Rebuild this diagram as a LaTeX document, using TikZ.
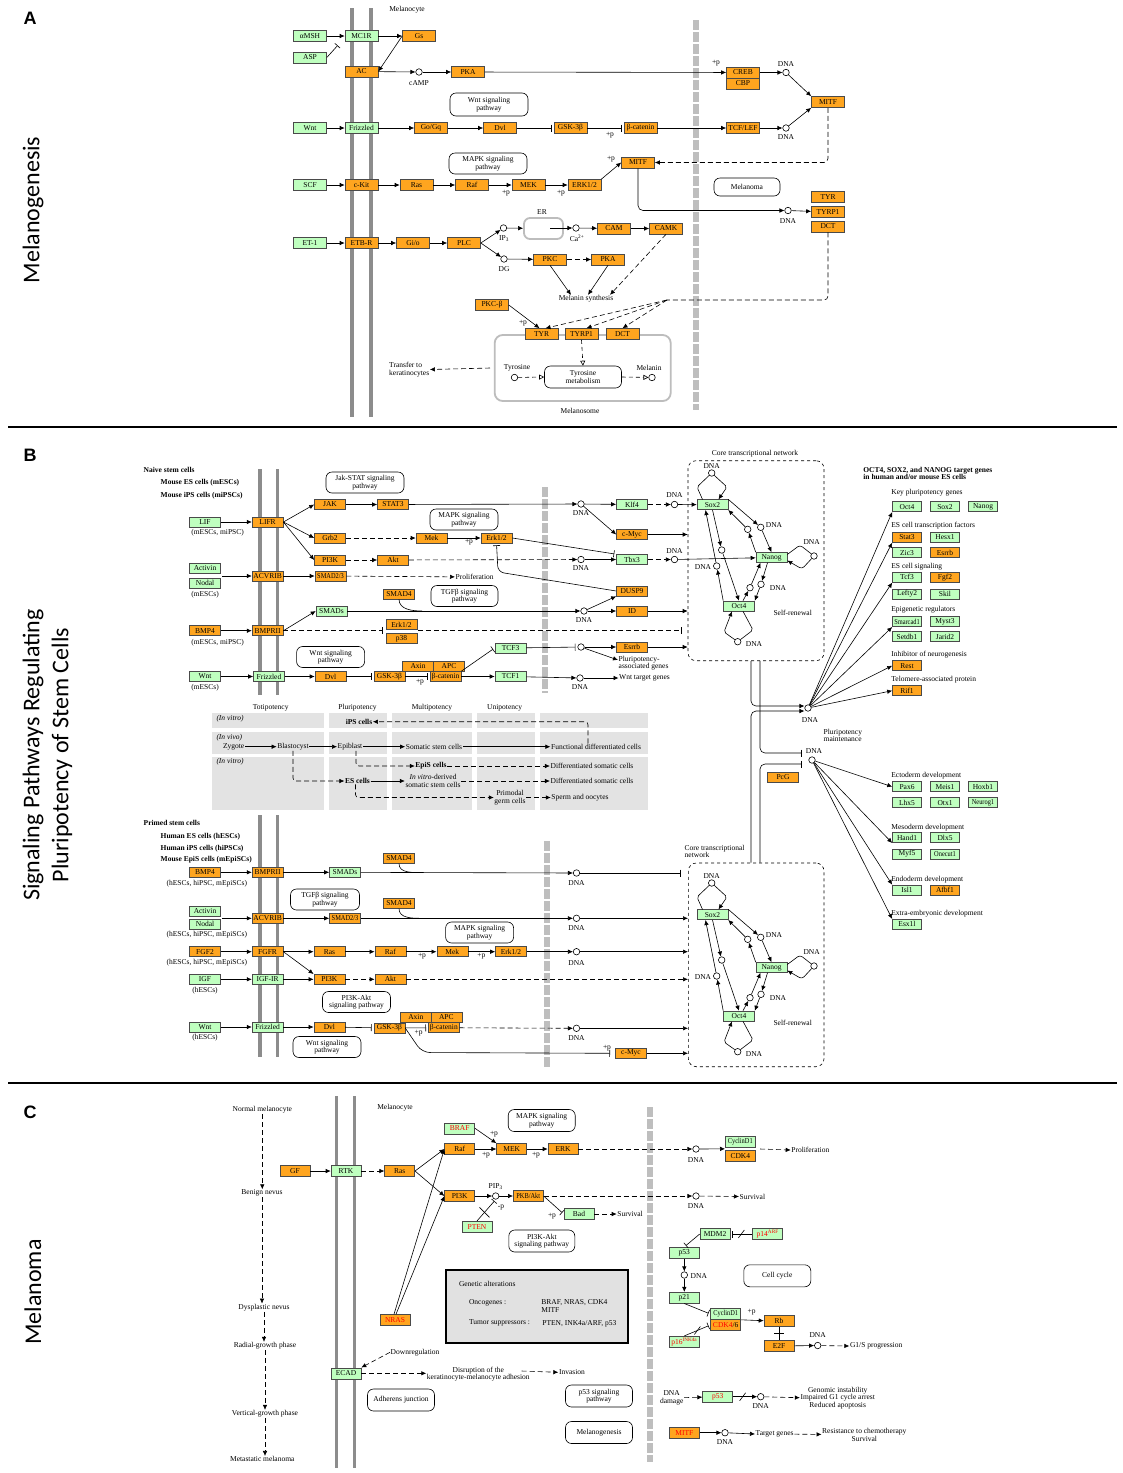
\documentclass[tikz,border=0pt]{standalone}
\usepackage{fontspec}
\setmainfont{Liberation Serif}
\newfontfamily\carl{Carlito}
\newfontfamily\lsans{Liberation Sans}
\usepackage{graphicx}
\usetikzlibrary{arrows.meta,calc}
\definecolor{kgreen}{HTML}{BFFFBF}
\definecolor{korange}{HTML}{FFA51F}
\definecolor{kline}{HTML}{4A4A4A}
\definecolor{membgray}{HTML}{8C8C8C}
\definecolor{nucgray}{HTML}{BEBEBE}
\definecolor{cellgray}{HTML}{E3E3E3}
\definecolor{genfill}{HTML}{E1E1E1}
\definecolor{orgline}{HTML}{BDBDBD}
\newcommand\kfont{\fontsize{7.5}{7.5}\selectfont}
\newcommand\mkG[3]{\node[gbox] (#1) at (#2) {#3};}
\newcommand\mkO[3]{\node[obox] (#1) at (#2) {#3};}
\newcommand\mkC[2]{\node[cpd] (#1) at (#2) {};}
\newcommand\mkT[3]{\node[lbl] (#1) at (#2) {#3};}
\newcommand\mkP[4]{\node[pmap, minimum width=#3pt] (#1) at (#2) {#4};}
\newcommand\sqz[1]{\scalebox{0.85}[1]{#1}}
\tikzset{
  lbl/.style={font=\kfont, inner sep=0.5pt, align=center, text=black},
  gbox/.style={font=\kfont, inner sep=0pt, draw=kline, fill=kgreen, line width=0.6pt, minimum width=31pt, minimum height=10pt, text=black},
  obox/.style={gbox, fill=korange},
  cpd/.style={circle, draw=black, fill=white, line width=0.6pt, minimum size=6.5pt, inner sep=0pt},
  pmap/.style={font=\kfont, draw=black, fill=white, line width=0.6pt, rounded corners=6pt, minimum height=21pt, align=center, inner sep=1pt},
  ln/.style={line width=0.6pt, draw=black},
  dln/.style={ln, dash pattern=on 5pt off 3pt},
  arr/.style={ln, -{Latex[length=5pt,width=4.5pt]}},
  darr/.style={arr, dash pattern=on 5pt off 3pt},
  inh/.style={ln, -{Bar[width=7pt]}, shorten >=2pt},
  dinh/.style={inh, dash pattern=on 5pt off 3pt},
  oarr/.style={ln, dash pattern=on 4pt off 3pt, -{Triangle[open,length=5pt,width=5pt]}},
  memb/.style={draw=membgray, line width=3.5pt},
  nucl/.style={draw=nucgray, line width=6pt, dash pattern=on 10pt off 2pt},
  blc/.style={lbl, font=\kfont\bfseries},
  bl/.style={blc, anchor=west},
  itl/.style={lbl, anchor=west, font=\kfont\itshape},
  wl/.style={lbl, anchor=west, align=left},
}
\newcommand\corenet[1]{%
\mkG{#1sox}{712.5,504.7}{Sox2}%
\mkG{#1nan}{771.5,557.5}{Nanog}%
\mkG{#1oct}{739,606}{Oct4}%
\mkC{#1c1}{711.7,473}%
\mkT{#1l1}{711.7,466.5}{DNA}%
\draw[ln, rounded corners=2pt] ([xshift=-10pt]#1sox.north) -- (697,487) -- (#1c1);%
\draw[arr, rounded corners=2pt] (#1c1) -- (727,487) -- ([xshift=6pt]#1sox.north);%
\mkC{#1c2}{760.7,527.3}%
\mkT{#1l2}{774,525}{DNA}%
\draw[arr] (#1sox.north east) -- (#1c2);%
\draw[arr] (#1c2) -- (#1nan.north);%
\mkC{#1c3}{747.7,529.3}%
\draw[arr] (#1nan.north west) -- (#1c3);%
\draw[arr] (#1c3) -- (#1sox.south east);%
\mkC{#1c4}{721.7,550}%
\draw[arr] (#1sox.south) -- (#1c4);%
\draw[arr] (#1c4) -- (#1oct.north);%
\mkC{#1c5}{716.7,566}%
\mkT{#1l5}{703,567}{DNA}%
\draw[arr] (#1oct.north west) -- (#1c5);%
\draw[arr] (#1c5) -- ([xshift=-7pt]#1sox.south);%
\mkC{#1c6}{750,587.7}%
\mkC{#1c7}{761,584.3}%
\mkT{#1l6}{778,588}{DNA}%
\draw[arr] ([xshift=4pt]#1oct.north) -- (#1c6);%
\draw[arr] (#1c6) -- ([xshift=-11pt]#1nan.south);%
\draw[arr] ([xshift=-4pt]#1nan.south) -- (#1c7);%
\draw[arr] (#1c7) -- (#1oct.north east);%
\mkC{#1c8}{814,556}%
\mkT{#1l8}{811.7,542}{DNA}%
\draw[ln, rounded corners=3pt] ([yshift=3pt]#1nan.east) -- (800,545) -- (#1c8);%
\draw[arr, rounded corners=3pt] (#1c8) -- (802,569) -- ([yshift=-3pt]#1nan.east);%
\mkC{#1c9}{737.7,641.7}%
\mkT{#1l9}{754,644}{DNA}%
\draw[ln, rounded corners=2pt] ([xshift=4pt]#1oct.south) -- (753,630) -- (#1c9);%
\draw[arr, rounded corners=2pt] (#1c9) -- (724,632) -- ([xshift=-7pt]#1oct.south);%
\mkT{#1sr}{792.7,612.7}{Self-renewal}%
}
\begin{document}
\begin{tikzpicture}[x=1pt,y=-1pt]
\useasboundingbox (0,0) rectangle (1123,1473);
\fill[white] (0,0) rectangle (1123,1473);

% ---------- side titles and separators
\node[font=\lsans\bfseries\fontsize{18}{18}\selectfont, inner sep=0pt] (labA) at (30,18) {A};
\node[font=\lsans\bfseries\fontsize{18}{18}\selectfont, inner sep=0pt] (labB) at (30,455) {B};
\node[font=\lsans\bfseries\fontsize{18}{18}\selectfont, inner sep=0pt] (labC) at (30,1112) {C};
\node[rotate=90, font=\carl\fontsize{24}{26}\selectfont] (titA) at (33,210) {Melanogenesis};
\node[rotate=90, font=\carl\fontsize{24}{29}\selectfont, align=center] (titB) at (47.5,755) {Signaling Pathways Regulating\\Pluripotency of Stem Cells};
\node[rotate=90, font=\carl\fontsize{24}{26}\selectfont] (titC) at (33,1292) {Melanoma};
\draw[line width=1.6pt] (8,427) -- (1117,427);
\draw[line width=1.6pt] (8,1083) -- (1117,1083);

% =================== PANEL A
\begin{scope}[gbox/.append style={minimum width=33pt, minimum height=11pt}]
\draw[memb] (352,8) -- (352,417);
\draw[memb] (371,8) -- (371,417);
\draw[nucl] (696,20) -- (696,410);
\mkT{aMel}{407,10}{Melanocyte}
\node[draw=orgline, line width=1.8pt, rounded corners=8pt, minimum width=176pt, minimum height=66pt, inner sep=0pt] (amso) at (582.7,368) {};
\node[draw=orgline, line width=1.8pt, rounded corners=6pt, minimum width=39pt, minimum height=21pt, inner sep=0pt] (aER) at (543.5,228.5) {};
\mkG{aMSH}{310,36}{αMSH}
\mkG{aASP}{310,57.5}{ASP}
\mkG{aMC1R}{361.5,36}{MC1R}
\mkO{aGs}{419,36}{Gs}
\mkO{aAC}{361.5,71.5}{AC}
\mkC{acAMP}{419,72}
\mkT{acAMPl}{419,83}{cAMP}
\mkO{aPKA}{468,72}{PKA}
\mkT{apA}{716,63}{+p}
\mkO{aCREB}{743,72.5}{CREB}
\mkO{aCBP}{743,83.5}{CBP}
\mkC{adna1}{786,72.5}
\mkT{adna1l}{786,64}{DNA}
\mkO{aMITFr}{828,102}{MITF}
\node[pmap, minimum width=78pt, minimum height=23pt] (awntp) at (489,104.5) {Wnt signaling\\pathway};
\mkG{aWnt}{310,128}{Wnt}
\mkG{aFz}{361.5,128}{Frizzled}
\mkO{aGo}{431,128}{Go/Gq}
\mkO{aDvl}{500,128}{Dvl}
\mkO{aGSK}{570.5,128}{GSK-3β}
\mkT{apB}{610,135}{+p}
\mkO{abcat}{640.5,128}{β-catenin}
\mkO{aTCF}{743,128}{TCF/LEF}
\mkC{adna2}{786,128}
\mkT{adna2l}{786,137.5}{DNA}
\mkP{amapkp}{488,163.5}{78}{MAPK signaling\\pathway}
\mkO{aMITFc}{638,162.5}{MITF}
\mkT{apC}{611,159}{+p}
\node[pmap, minimum width=66pt, minimum height=18pt] (amelanoma) at (747,187) {Melanoma};
\mkG{aSCF}{310,185}{SCF}
\mkO{acKit}{361.5,185}{c-Kit}
\mkO{aRas}{416.5,185}{Ras}
\mkO{aRaf}{472,185}{Raf}
\mkO{aMEK}{528.5,185}{MEK}
\mkO{aERK}{584.5,185}{ERK1/2}
\mkT{apD}{506,193.5}{+p}
\mkT{apE}{561,193.5}{+p}
\mkO{aTYR}{828,197}{TYR}
\mkO{aTYRP1}{828,212}{TYRP1}
\mkO{aDCT}{828,226.5}{DCT}
\mkC{adna3}{788,210.5}
\mkT{adna3l}{788,221}{DNA}
\mkT{aERl}{542,212}{ER}
\mkC{aIP3}{503.5,228}
\mkT{aIP3l}{504,239}{IP\textsubscript{3}}
\coordinate (aerin) at (550,228);
\mkC{aCa}{576,228}
\mkT{aCal}{577,238}{Ca\textsuperscript{2+}}
\mkO{aCAM}{614,228.5}{CAM}
\mkO{aCAMK}{666,228.5}{CAMK}
\mkG{aET1}{310,243}{ET-1}
\mkO{aETBR}{361.5,243}{ETB-R}
\mkO{aGio}{413,243}{Gi/o}
\mkO{aPLC}{464,243}{PLC}
\mkC{aDG}{504,259}
\mkT{aDGl}{504,269}{DG}
\mkO{aPKC}{550,259.5}{PKC}
\mkO{aPKA2}{608,259.5}{PKA}
\mkT{amelsyn}{586,299}{Melanin synthesis}
\mkO{aPKCb}{492,305}{PKC-β}
\mkT{apF}{523,323}{+p}
\mkO{aTYR2}{541.5,334}{TYR}
\mkO{aTYRP12}{581.5,334}{TYRP1}
\mkO{aDCT2}{622.5,334}{DCT}
\node[pmap, minimum width=77pt, minimum height=22pt] (atymet) at (583,377) {Tyrosine\\metabolism};
\mkT{atyrl}{517,368}{Tyrosine}
\mkC{atyr}{514.5,377.5}
\mkT{amell}{649,368}{Melanin}
\mkC{amel}{652,377.5}
\mkT{amsol}{580,411}{Melanosome}
\node[wl] (atransfer) at (388.5,369.5) {Transfer to\\keratinocytes};
\coordinate (atfs) at (490,368);
\coordinate (aaspbar) at (339,44);
\coordinate (ahub) at (667,300);
% connectors A
\draw[arr] (aMSH) -- (aMC1R);
\draw[inh] (aASP.east) -- (aaspbar);
\draw[arr] (aMC1R) -- (aGs);
\draw[arr] (aGs.west) -- (aAC.east);
\draw[arr] (aAC) -- (acAMP);
\draw[arr] (acAMP) -- (aPKA);
\draw[arr] (aPKA) -- (aCREB);
\draw[arr] (aCREB) -- (adna1);
\draw[arr] (adna1) -- (aMITFr.north west);
\draw[arr] (aWnt) -- (aFz);
\draw[arr] (aFz) -- (aGo);
\draw[arr] (aGo) -- (aDvl);
\draw[inh] (aDvl) -- (aGSK);
\draw[inh] (aGSK) -- (abcat);
\draw[arr] (abcat) -- (aTCF);
\draw[arr] (aTCF) -- (adna2);
\draw[arr] (adna2) -- (aMITFr.south west);
\draw[darr, rounded corners=4pt] (aMITFr.south) |- (aMITFc.east);
\draw[arr] (aSCF) -- (acKit);
\draw[arr] (acKit) -- (aRas);
\draw[arr] (aRas) -- (aRaf);
\draw[arr] (aRaf) -- (aMEK);
\draw[arr] (aMEK) -- (aERK);
\draw[arr] (aERK.north east) -- (aMITFc.west);
\draw[arr, rounded corners=5pt] (aMITFc.south) |- (adna3);
\draw[arr] (adna3) -- (aTYRP1);
\draw[arr] (aET1) -- (aETBR);
\draw[arr] (aETBR) -- (aGio);
\draw[arr] (aGio) -- (aPLC);
\draw[arr] (aPLC.east) -- (aIP3);
\draw[arr] (aPLC.east) -- (aDG);
\draw[arr] (aIP3) -- (aER);
\draw[arr] (aerin) -- (aCa);
\draw[arr] (aCa) -- (aCAM);
\draw[arr] (aCAM) -- (aCAMK);
\draw[arr] (aDG) -- (aPKC);
\draw[darr] (aPKC) -- (aPKA2);
\draw[arr] (aPKC.south) -- ([xshift=-15pt]amelsyn.north);
\draw[arr] (aPKA2.south) -- ([xshift=2pt]amelsyn.north);
\draw[darr] (aCAMK.south) -- ([xshift=24pt]amelsyn.north);
\draw[dln, rounded corners=4pt] (aDCT.south) |- (ahub);
\draw[darr] (ahub) -- ([xshift=4pt]aTYR2.north);
\draw[darr] (ahub) -- ([xshift=5pt]aTYRP12.north);
\draw[darr] (ahub) -- (aDCT2.north);
\draw[arr] (aPKCb.east) -- ([xshift=-2pt]aTYR2.north);
\draw[oarr] (aTYRP12.south) -- (atymet.north);
\draw[oarr] (atyr) -- (atymet.west);
\draw[oarr] (atymet.east) -- (amel);
\draw[darr] (atfs) -- (atransfer.east);
\end{scope}

% =================== PANEL B (top)
\draw[memb] (260,469) -- (260,695);
\draw[memb] (277.5,469) -- (277.5,695);
\draw[nucl] (545,487) -- (545,693);
\node[bl] (bnaive) at (143,470) {Naive stem cells};
\node[bl] (bmes) at (160,483) {Mouse ES cells (mESCs)};
\node[bl] (bmips) at (160,496) {Mouse iPS cells (miPSCs)};
\mkP{bjak}{365,482.5}{78}{Jak-STAT signaling\\pathway}
\mkO{bJAK}{330,504.5}{JAK}
\mkO{bSTAT3}{393,504.5}{STAT3}
\mkC{bd1}{581,504}
\mkT{bd1l}{581,513}{DNA}
\mkG{bKlf4}{632,504.5}{Klf4}
\mkC{bd2}{674.5,504.5}
\mkT{bd2l}{674.5,495.5}{DNA}
\mkG{bLIF}{205,522}{LIF}
\mkT{bLIFl}{217.6,532.5}{(mESCs, miPSC)}
\mkO{bLIFR}{267.6,522}{LIFR}
\mkO{bGrb2}{330,538}{Grb2}
\mkO{bMek}{431.5,538}{Mek}
\mkO{bErk}{496.5,538}{Erk1/2}
\mkT{bp1}{469,542.5}{+p}
\mkP{bmapk}{464,519.5}{68}{MAPK signaling\\pathway}
\mkO{bcMyc}{632,534.5}{c-Myc}
\mkO{bPI3K}{330,560}{PI3K}
\mkO{bAkt}{393,560}{Akt}
\mkC{bd3}{581,559.5}
\mkT{bd3l}{581,568.5}{DNA}
\mkG{bTbx3}{632,559.5}{Tbx3}
\mkC{bd4}{674.5,559.5}
\mkT{bd4l}{674.5,551}{DNA}
\mkG{bActivin}{205,568.5}{Activin}
\mkG{bNodal}{205,583}{Nodal}
\mkT{bNodall}{205,594.5}{(mESCs)}
\mkO{bACVR}{267.6,576}{ACVRIB}
\mkO{bSMAD23}{330.5,576}{\sqz{SMAD2/3}}
\node[wl] (bprolif) at (455,577) {Proliferation};
\mkO{bSMAD4}{399,594}{SMAD4}
\mkP{btgf}{464.5,596}{67}{TGFβ signaling\\pathway}
\mkG{bSMADs}{331.5,611}{SMADs}
\mkC{bd5}{584,611}
\mkT{bd5l}{584,620.5}{DNA}
\mkO{bDUSP9}{632,591}{DUSP9}
\mkO{bID}{632,611}{ID}
\mkO{bBMP4}{205,630.7}{BMP4}
\mkT{bBMP4l}{217.6,643}{(mESCs, miPSC)}
\mkO{bBMPR}{267.6,630.7}{BMPRII}
\mkO{bErk2}{401.5,624.5}{Erk1/2}
\mkO{bp38}{401.5,638.5}{p38}
\mkP{bwntp}{330.6,657}{68}{Wnt signaling\\pathway}
\mkG{bWnt}{205,676.5}{Wnt}
\mkT{bWntl}{205,687.5}{(mESCs)}
\mkG{bFz}{269,676.5}{Frizzled}
\mkO{bDvl}{330.5,676.5}{Dvl}
\mkO{bGSK}{389.4,676.5}{GSK-3β}
\mkO{bAxin}{418,666}{Axin}
\mkO{bAPC}{449,666}{APC}
\mkO{bbcat}{445.5,676.5}{β-catenin}
\mkT{bp2}{420,682.5}{+p}
\mkG{bTCF3}{510.5,648}{TCF3}
\mkG{bTCF1}{510.5,676.5}{TCF1}
\mkC{bd6}{581,647}
\mkO{bEsrrb}{632,647}{Esrrb}
\node[wl] (bpluri) at (618,663) {Pluripotency-\\associated genes};
\mkC{bd7}{580,678}
\mkT{bd7l}{580,687.5}{DNA}
\node[wl] (bwtg) at (618.5,678) {Wnt target genes};
\node[draw, dashed, line width=0.6pt, rounded corners=8pt, minimum width=136pt, minimum height=200pt, inner sep=0pt] (core1) at (756,560.7) {};
\mkT{core1l}{755,454}{Core transcriptional network}
\corenet{k1}
\coordinate (bactin) at (222,576);
\coordinate (bj1) at (422,611);
\coordinate (bbar1) at (385,630.7);
\coordinate (bbar2s) at (418,630.7);
% connectors B top
\draw[arr] (bLIF) -- (bLIFR);
\draw[arr] (bLIFR.east) -- (bJAK.west);
\draw[arr] (bLIFR.east) -- (bGrb2.west);
\draw[arr] (bLIFR.east) -- (bPI3K.west);
\draw[arr] (bJAK) -- (bSTAT3);
\draw[arr] (bSTAT3) -- (bd1);
\draw[arr] (bd1) -- (bKlf4);
\draw[arr] (bd1) -- (bcMyc.west);
\draw[darr] (bKlf4) -- (bd2);
\draw[arr] (bd2) -- (k1sox);
\draw[darr] (bGrb2) -- (bMek);
\draw[arr] (bMek) -- (bErk);
\draw[inh] (bErk.east) -- (bTbx3.north west);
\draw[inh, rounded corners=6pt] (bDUSP9.west) -- (498,572) -- (bErk.south);
\draw[darr] (bPI3K) -- (bAkt);
\draw[darr] (bAkt) -- (bd3);
\draw[arr] (bd3) -- (bTbx3);
\draw[darr] (bTbx3) -- (bd4);
\draw[arr] (bd4) -- (k1nan);
\draw[arr] (bcMyc) -- (core1.west |- bcMyc);
\draw[arr] (bactin) -- (bACVR);
\draw[arr] (bACVR) -- (bSMAD23);
\draw[darr] (bSMAD23) -- (bprolif);
\draw[arr] (bBMPR.east) -- (bSMADs.west);
\draw[arr] (bSMADs) -- (bd5);
\draw[ln] (bSMAD4.south) to[out=-90,in=180] (bj1);
\draw[arr] (bd5) -- (bDUSP9.south west);
\draw[arr] (bd5) -- (bID);
\draw[arr] (bID) -- (core1.west |- bID);
\draw[arr] (bBMP4) -- (bBMPR);
\draw[dinh] (bBMPR) -- (bbar1);
\draw[dinh] (bbar2s) -- ($(core1.west |- bBMPR)+(-4,0)$);
\draw[arr] (bWnt) -- (bFz);
\draw[arr] (bFz) -- (bDvl);
\draw[inh] (bDvl) -- (bGSK);
\draw[inh] (bGSK) -- (bbcat);
\draw[arr] (bbcat) -- (bTCF1);
\draw[inh] (bbcat.north east) -- (bTCF3.west);
\draw[inh] (bTCF3) -- (bd6);
\draw[arr] (bd6) -- (bEsrrb);
\draw[arr] (bd6) -- ([yshift=3pt]bpluri.west);
\draw[arr] (bEsrrb) -- (core1.west |- bEsrrb);
\draw[arr] (bTCF1) -- (bd7);
\draw[arr] (bd7) -- (bwtg);

% ---- hubs and right column
\mkC{hubP}{808,708}
\mkT{hubPl}{810,720.5}{DNA}
\node[wl] (plmaint) at (823,735.5) {Pluripotency\\maintenance};
\mkC{hubN}{812,760}
\mkT{hubNl}{814,751}{DNA}
\mkO{bPcG}{783,777}{PcG}
\coordinate (vx1) at (751,0);
\coordinate (vx2) at (760,0);
\coordinate (hbar1) at (804,753);
\coordinate (hbar2) at (804,764);
\node[draw, dashed, line width=0.6pt, rounded corners=8pt, minimum width=135.7pt, minimum height=203.7pt, inner sep=0pt] (core2) at (756.15,964.85) {};
\draw[arr, rounded corners=5pt] (core1.south -| vx1) |- ([yshift=2pt]hubP.west);
\draw[inh, rounded corners=5pt] (core1.south -| vx2) |- (hbar1);
\draw[arr, rounded corners=5pt] (core2.north -| vx1) |- ([yshift=-3pt]hubP.west);
\draw[inh, rounded corners=5pt] (core2.north -| vx2) |- (hbar2);

\node[blc, anchor=west, align=left] (rtitle) at (862.7,473.5) {OCT4, SOX2, and NANOG target genes\\in human and/or mouse ES cells};
\node[wl] (rkey) at (890.7,492.7) {Key pluripotency genes};
\node[wl] (restf) at (890.7,526) {ES cell transcription factors};
\node[wl] (ressig) at (890.7,566.7) {ES cell signaling};
\node[wl] (repi) at (890.7,609.3) {Epigenetic regulators};
\node[wl] (rinh) at (890.7,654.3) {Inhibitor of neurogenesis};
\node[wl] (rtel) at (890.7,679.3) {Telomere-associated protein};
\node[wl] (recto) at (890.7,775.7) {Ectoderm development};
\node[wl] (rmeso) at (890.7,827.3) {Mesoderm development};
\node[wl] (rendo) at (890.7,879.3) {Endoderm development};
\node[wl] (rextra) at (890.7,913.3) {Extra-embryonic development};
\begin{scope}[gbox/.append style={minimum width=29pt}]
\mkG{rOct4}{907,506.7}{Oct4}
\mkG{rSox2}{945,506.7}{Sox2}
\mkG{rNanog}{983,506.7}{Nanog}
\mkO{rStat3}{907,537.3}{Stat3}
\mkG{rHesx1}{945,537.3}{Hesx1}
\mkG{rZic3}{907,552.7}{Zic3}
\mkO{rEsrrb}{945,552.7}{Esrrb}
\mkG{rTcf3}{907,577.3}{Tcf3}
\mkO{rFgf2}{945,577.3}{Fgf2}
\mkG{rLefty2}{907,594}{Lefty2}
\mkG{rSkil}{945,594}{Skil}
\mkG{rSmarcad1}{907,621.7}{\sqz{Smarcad1}}
\mkG{rMyst3}{945,621.7}{Myst3}
\mkG{rSetdb1}{907,636.7}{Setdb1}
\mkG{rJarid2}{945,636.7}{Jarid2}
\mkO{rRest}{907,665.7}{Rest}
\mkO{rRif1}{907,690.7}{Rif1}
\mkG{rPax6}{907,786.7}{Pax6}
\mkG{rMeis1}{945,786.7}{Meis1}
\mkG{rHoxb1}{983,786.7}{Hoxb1}
\mkG{rLhx5}{907,802.7}{Lhx5}
\mkG{rOtx1}{945,802.7}{Otx1}
\mkG{rNeurog1}{983,802.7}{\sqz{Neurog1}}
\mkG{rHand1}{907,837.7}{Hand1}
\mkG{rDlx5}{945,837.7}{Dlx5}
\mkG{rMyf5}{907,854}{Myf5}
\mkG{rOnecut1}{945,854}{\sqz{Onecut1}}
\mkG{rIsl1}{907,890}{Isl1}
\mkO{rAfbf1}{945,890}{Afbf1}
\mkG{rEsx1l}{907,924.3}{Esx1l}
\end{scope}
\foreach \t in {rOct4.south west, rStat3.south west, rTcf3.south west, rSmarcad1.south west, rRest.west, rRif1.west}{
  \draw[arr] (hubP) -- (\t);}
\foreach \t in {rPax6.west, rHand1.south west, rIsl1.north west, rEsx1l.north west}{
  \draw[arr] (hubN) -- (\t);}

% ---- potency grid
\foreach \xa/\xb in {212/324,329/387,392/472,477/535,540/648}{
  \foreach \ya/\yb in {713/728,732/754,757/810}{
    \fill[cellgray] (\xa,\ya) rectangle (\xb,\yb);}}
\mkT{gtoti}{270.7,708}{Totipotency}
\mkT{gpluri}{357.5,708}{Pluripotency}
\mkT{gmulti}{432,708}{Multipotency}
\mkT{guni}{504.7,708}{Unipotency}
\node[itl] (gv1) at (215.8,719) {(In vitro)};
\node[blc] (gips) at (359,721.7) {iPS cells};
\node[itl] (gv2) at (215.8,737.3) {(In vivo)};
\mkT{gzyg}{233.7,746.7}{Zygote}
\mkT{gblast}{293,746.7}{Blastocyst}
\mkT{gepi}{350,746.7}{Epiblast}
\mkT{gsom}{434,746.7}{Somatic stem cells}
\mkT{gfun}{596,746.7}{Functional differentiated cells}
\node[itl] (gv3) at (215.8,761.7) {(In vitro)};
\node[blc] (gepis) at (431,766) {EpiS cells};
\mkT{gdiff1}{592,766}{Differentiated somatic cells}
\node[blc] (ges) at (357.5,781) {ES cells};
\mkT{ginv}{433,781}{\textit{In vitro}-derived\\somatic stem cells}
\mkT{gdiff2}{592,781}{Differentiated somatic cells}
\mkT{gpgc}{510,797.5}{Primodal\\germ cells}
\mkT{gsperm}{580,797.5}{Sperm and oocytes}
\draw[arr] (gzyg) -- (gblast);
\draw[arr] (gblast) -- (gepi);
\draw[arr] (gepi) -- (gsom);
\draw[arr] (gsom) -- (gfun);
\draw[darr, rounded corners=3pt] ([xshift=-8pt]gfun.north) |- (gips);
\draw[darr, rounded corners=3pt] ([xshift=6pt]gepi.south) |- (gepis);
\draw[darr] (gepis) -- (gdiff1);
\draw[darr, rounded corners=3pt] (gblast.south) |- (ges);
\draw[arr] (ges) -- (ginv);
\draw[darr] (ginv) -- (gdiff2);
\draw[darr, rounded corners=3pt] ([xshift=-2pt]ges.south) |- (gpgc);
\draw[darr] (gpgc) -- (gsperm);

% =================== PANEL B (bottom)
\draw[memb] (260,815) -- (260,1057);
\draw[memb] (277.5,815) -- (277.5,1057);
\draw[nucl] (547,841) -- (547,1068);
\node[bl] (pprimed) at (143,823.3) {Primed stem cells};
\node[bl] (phes) at (160,836.7) {Human ES cells (hESCs)};
\node[bl] (phips) at (160,848.3) {Human iPS cells (hiPSCs)};
\node[bl] (pmepi) at (160,859.3) {Mouse EpiS cells (mEpiSCs)};
\mkO{pBMP4}{205,872.3}{BMP4}
\mkT{pBMP4l}{206.8,883.5}{(hESCs, hiPSC, mEpiSCs)}
\mkO{pBMPR}{267.6,872.3}{BMPRII}
\mkG{pSMADs}{345,872.3}{SMADs}
\mkO{pSMAD4a}{399,858.3}{SMAD4}
\mkC{pd1}{576.5,873}
\mkT{pd1l}{576.5,883.5}{DNA}
\mkP{ptgf}{325,899.5}{69}{TGFβ signaling\\pathway}
\mkO{pSMAD4b}{399,903.3}{SMAD4}
\mkG{pActivin}{205,911}{Activin}
\mkG{pNodal}{205,924.3}{Nodal}
\mkT{pNodall}{206.8,934.5}{(hESCs, hiPSC, mEpiSCs)}
\mkO{pACVR}{267.6,918.3}{ACVRIB}
\mkO{pSMAD23}{345,918.3}{\sqz{SMAD2/3}}
\mkC{pd2}{576.5,918.3}
\mkT{pd2l}{576.5,928}{DNA}
\mkP{pmapk}{479.6,932.5}{68}{MAPK signaling\\pathway}
\mkO{pFGF2}{205,951.7}{FGF2}
\mkT{pFGF2l}{206.8,962.5}{(hESCs, hiPSC, mEpiSCs)}
\mkO{pFGFR}{267.6,951.7}{FGFR}
\mkO{pRas}{329.4,951.7}{Ras}
\mkO{pRaf}{390.4,951.7}{Raf}
\mkO{pMek}{452.3,951.7}{Mek}
\mkO{pErk}{511,951.7}{Erk1/2}
\mkT{pp1}{422,956}{+p}
\mkT{pp2}{481.4,956}{+p}
\mkC{pd3}{576.5,951.7}
\mkT{pd3l}{576.5,963.5}{DNA}
\mkG{pIGF}{205,979.3}{IGF}
\mkT{pIGFl}{205,990.7}{(hESCs)}
\mkG{pIGFR}{267.6,979.3}{IGF-IR}
\mkO{pPI3K}{329.4,979.3}{PI3K}
\mkO{pAkt}{390.4,979.3}{Akt}
\mkP{ppi3k}{356.5,1002}{68}{PI3K-Akt\\signaling pathway}
\mkG{pWnt}{205,1027}{Wnt}
\mkT{pWntl}{205,1037.7}{(hESCs)}
\mkG{pFz}{267.6,1027}{Frizzled}
\mkO{pDvl}{329.4,1027}{Dvl}
\mkO{pGSK}{389.4,1028}{GSK-3β}
\mkO{pAxin}{415.8,1017.3}{Axin}
\mkO{pAPC}{446.3,1017.3}{APC}
\mkO{pbcat}{443.8,1027.7}{β-catenin}
\mkT{pp3}{418.6,1033.5}{+p}
\mkC{pd4}{576.5,1028.3}
\mkT{pd4l}{576.5,1038.5}{DNA}
\mkO{pcMyc}{631,1053.3}{c-Myc}
\mkT{pp4}{607,1048}{+p}
\mkP{pwntp}{327,1047}{68}{Wnt signaling\\pathway}
\node[wl] (core2l) at (684,851.5) {Core transcriptional\\network};
\begin{scope}[shift={(0,410)}]
\corenet{k2}
\end{scope}
\coordinate (pj1) at (422,872.5);
\coordinate (pj2) at (422,918.3);
\coordinate (pactin) at (222,918.3);
\coordinate (pmycbar) at (612,1053.3);
\draw[arr] (pBMP4) -- (pBMPR);
\draw[arr] (pBMPR) -- (pSMADs);
\draw[arr] (pSMADs) -- (pd1);
\draw[ln] (pSMAD4a.south) to[out=-90,in=180] (pj1);
\draw[inh] (pd1) -- ($(core2.west |- pd1)+(-5,0)$);
\draw[arr] (pactin) -- (pACVR);
\draw[arr] (pACVR) -- (pSMAD23);
\draw[arr] (pSMAD23) -- (pd2);
\draw[ln] (pSMAD4b.south) to[out=-90,in=180] (pj2);
\draw[arr] (pd2) -- (core2.west |- pd2);
\draw[arr] (pFGF2) -- (pFGFR);
\draw[arr] (pFGFR) -- (pRas);
\draw[arr] (pRas) -- (pRaf);
\draw[arr] (pRaf) -- (pMek);
\draw[arr] (pMek) -- (pErk);
\draw[arr] (pErk) -- (pd3);
\draw[arr] (pd3) -- (core2.west |- pd3);
\draw[arr] (pFGFR.east) -- (pPI3K.north west);
\draw[arr] (pIGF) -- (pIGFR);
\draw[arr] (pIGFR) -- (pPI3K);
\draw[darr] (pPI3K) -- (pAkt);
\draw[darr] (pAkt) -- (core2.west |- pAkt);
\draw[arr] (pWnt) -- (pFz);
\draw[arr] (pFz) -- (pDvl);
\draw[inh] (pDvl) -- (pGSK);
\draw[inh] (pGSK) -- (pbcat);
\draw[darr] (pbcat) -- (pd4);
\draw[arr] (pd4) -- (core2.west |- pd4);
\draw[inh, rounded corners=8pt] (pGSK.east) -- (422,1052.5) -- (pmycbar);
\draw[arr] (pcMyc) -- (core2.west |- pcMyc);

% =================== PANEL C
\begin{scope}[gbox/.append style={minimum width=30pt, minimum height=11pt}]
\draw[memb] (336.7,1096) -- (336.7,1468);
\draw[memb] (354.3,1096) -- (354.3,1468);
\draw[nucl] (650,1107) -- (650,1462);
\mkT{cnorm}{262.3,1110}{Normal melanocyte}
\mkT{cben}{262,1193.3}{Benign nevus}
\mkT{cdys}{264,1307.7}{Dysplastic nevus}
\mkT{crad}{265,1346}{Radial-growth phase}
\mkT{cvert}{265,1414}{Vertical-growth phase}
\mkT{cmet}{262.3,1459.3}{Metastatic melanoma}
\draw[darr] (cnorm.south) -- (cnorm.south |- cben.north);
\draw[darr] (cben.south) -- (cben.south |- cdys.north);
\draw[darr] (cdys.south) -- (cdys.south |- crad.north);
\draw[darr] (crad.south) -- (crad.south |- cvert.north);
\draw[darr] (cvert.south) -- (cvert.south |- cmet.north);
\mkT{cmelc}{395,1107.3}{Melanocyte}
\node[pmap, minimum width=67pt, minimum height=22pt] (cmapk) at (541.7,1120.5) {MAPK signaling\\pathway};
\mkG{cBRAF}{459.7,1128.3}{\textcolor{red}{BRAF}}
\mkO{cRaf}{459.7,1149}{Raf}
\mkO{cMEK}{511.7,1149}{MEK}
\mkO{cERK}{563,1149}{ERK}
\mkT{cp1}{494,1134.3}{+p}
\mkT{cp2}{486,1155}{+p}
\mkT{cp3}{536,1155}{+p}
\mkO{cGF}{295,1171}{GF}
\mkG{cRTK}{346,1171}{RTK}
\mkO{cRas}{399.7,1171}{Ras}
\mkO{cPI3K}{459.7,1196}{PI3K}
\mkC{cPIP3}{495.7,1196}
\mkT{cPIP3l}{495.7,1186.5}{PIP\textsubscript{3}}
\mkO{cAkt}{528.3,1196}{\sqz{PKB/Akt}}
\mkG{cPTEN}{477,1226.7}{\textcolor{red}{PTEN}}
\mkT{cmp}{501,1207.5}{-p}
\mkG{cBad}{579,1214}{Bad}
\mkT{cp4}{552,1216}{+p}
\node[wl] (csurv1) at (616.7,1214) {Survival};
\node[pmap, minimum width=66pt, minimum height=22pt] (cpi3k) at (541.8,1241) {PI3K-Akt\\signaling pathway};
\node[draw=black, line width=2pt, fill=genfill, minimum width=182.6pt, minimum height=73.3pt, inner sep=0pt] (cgenbox) at (537,1306.65) {};
\node[wl] (cgen1) at (458.3,1284.3) {Genetic alterations};
\node[wl] (cgen2) at (468.3,1302.7) {Oncogenes :};
\node[wl] (cgen3) at (540.7,1306) {BRAF, NRAS, CDK4\\MITF};
\node[wl] (cgen4) at (468.3,1323.3) {Tumor suppressors :};
\node[wl] (cgen5) at (541.7,1323.3) {PTEN, INK4a/ARF, p53};
\mkO{cNRAS}{395,1320}{\textcolor{red}{NRAS}}
\mkG{cECAD}{346,1373.3}{ECAD}
\node[wl] (cdown) at (390,1352.3) {Downregulation};
\mkT{cdis1}{478.3,1371}{Disruption of the}
\mkT{cdis2}{478.3,1378}{keratinocyte-melanocyte adhesion}
\node[wl] (cinv) at (558.3,1372.3) {Invasion};
\node[pmap, minimum width=67pt, minimum height=22pt] (cadh) at (401,1400) {Adherens junction};
\node[pmap, minimum width=67pt, minimum height=22pt] (cp53p) at (599,1396) {p53 signaling\\pathway};
\node[pmap, minimum width=67pt, minimum height=22pt] (cmelp) at (599,1432.5) {Melanogenesis};
% right side C
\mkC{cd1}{696,1149}
\mkT{cd1l}{696,1160}{DNA}
\mkG{cCycD1}{740.3,1141.7}{\sqz{CyclinD1}}
\mkO{cCDK4}{740.3,1156}{CDK4}
\coordinate (ccyc) at (760,1149);
\node[wl] (cprolif) at (790.7,1150) {Proliferation};
\mkC{cd2}{696,1196}
\mkT{cd2l}{696,1206}{DNA}
\node[wl] (csurv2) at (739,1196.5) {Survival};
\mkG{cMDM2}{715,1234}{MDM2}
\mkG{cp14}{767.7,1234}{\textcolor{red}{p14\textsuperscript{ARF}}}
\mkG{cp53}{684.3,1252.7}{p53}
\mkC{cd3}{684.3,1275}
\node[wl] (cd3l) at (690,1276) {DNA};
\mkG{cp21}{684.3,1297.7}{p21}
\node[pmap, minimum width=67pt, minimum height=22pt] (ccell) at (777.3,1275.8) {Cell cycle};
\mkG{cCycD1b}{725.7,1314}{\sqz{CyclinD1}}
\mkO{cCDK46}{725.7,1325}{\textcolor{red}{CDK4}/6}
\mkG{cp16}{684.3,1341.7}{\textcolor{red}{p16\textsuperscript{INK4a}}}
\mkT{cp5}{751.7,1312}{+p}
\mkO{cRb}{779,1320.7}{Rb}
\mkO{cE2F}{779,1346}{E2F}
\mkC{cd4}{817.7,1345.5}
\mkT{cd4l}{817.7,1335}{DNA}
\node[wl] (cg1s) at (849.3,1346) {G1/S progression};
\mkT{cdd}{671.7,1398}{DNA\\damage}
\mkG{cp53b}{717.7,1396.7}{\textcolor{red}{p53}}
\mkC{cd5}{760.7,1396.7}
\mkT{cd5l}{760.7,1406.5}{DNA}
\mkT{cgi}{837.7,1397.7}{Genomic instability\\Impaired G1 cycle arrest\\Reduced apoptosis}
\mkO{cMITF}{684.3,1432.7}{\textcolor{red}{MITF}}
\mkC{cd6}{725,1432.7}
\mkT{cd6l}{725,1442}{DNA}
\node[wl] (ctg) at (755,1434) {Target genes};
\mkT{cres}{864.3,1434.7}{Resistance to chemotherapy\\Survival}
% connectors C
\draw[arr] (cGF) -- (cRTK);
\draw[darr] (cRTK) -- (cRas);
\draw[arr] (cRas.east) -- (cRaf.west);
\draw[arr] (cRas.east) -- (cPI3K.west);
\draw[arr] ([xshift=-1pt]cNRAS.north) -- (cRaf.west);
\draw[arr] ([xshift=1pt]cNRAS.north) -- (cPI3K.west);
\draw[arr] (cRaf) -- (cMEK);
\draw[arr] (cMEK) -- (cERK);
\draw[arr] (cBRAF.east) -- (cMEK.north west);
\draw[darr] (cERK) -- (cd1);
\draw[arr] (cPI3K) -- (cPIP3);
\draw[arr] (cPIP3) -- (cAkt);
\draw[inh] (cPTEN.north) -- coordinate[pos=0.4] (cx1) (cPIP3.south);
\draw[ln] ([shift={(-5,-5)}]cx1) -- ([shift={(5,5)}]cx1);
\draw[darr] (cAkt) -- (cd2);
\draw[inh] (cAkt.east) -- (cBad.west);
\draw[darr] (cBad) -- (csurv1);
\draw[darr] (cdown.west) -- (cECAD.north east);
\draw[darr] (cECAD.east) -- (cdis2.west |- cECAD.east);
\draw[darr] ([xshift=17pt]cdis1.east) -- (cinv.west);
\draw[arr] (cd1) -- ($(cCycD1.south west)!0.5!(cCDK4.north west)$);
\draw[darr] (ccyc) -- (cprolif.west);
\draw[darr] (cd2) -- (csurv2.west);
\draw[inh] (cp14.west) -- coordinate (cx2) (cMDM2.east);
\draw[ln] ([shift={(-3,4)}]cx2) -- ([shift={(3,-4)}]cx2);
\draw[inh] (cMDM2.west) -- (cp53.north);
\draw[arr] (cp53) -- (cd3);
\draw[arr] (cd3) -- (cp21);
\draw[inh] (cp21.south) -- (cCycD1b.west);
\draw[inh] (cp16.north) -- coordinate (cx3) (cCDK46.west);
\draw[ln] ([shift={(-3,4)}]cx3) -- ([shift={(3,-4)}]cx3);
\draw[arr] (cCycD1b.south east) -- (cRb.west);
\draw[ln] (cRb) -- coordinate (cx4) (cE2F);
\draw[ln] ([xshift=-5pt]cx4) -- ([xshift=5pt]cx4);
\draw[arr] (cE2F) -- (cd4);
\draw[darr] (cd4) -- (cg1s.west);
\draw[darr] (cdd) -- (cp53b);
\draw[arr] (cp53b) -- coordinate[pos=0.4] (cx5) (cd5);
\draw[ln] ([shift={(-3,4)}]cx5) -- ([shift={(3,-4)}]cx5);
\draw[darr] (cd5) -- (cgi.west);
\draw[arr] (cMITF) -- (cd6);
\draw[arr] (cd6) -- (ctg.west);
\draw[darr] (ctg) -- (cres);
\end{scope}
\end{tikzpicture}
\end{document}
